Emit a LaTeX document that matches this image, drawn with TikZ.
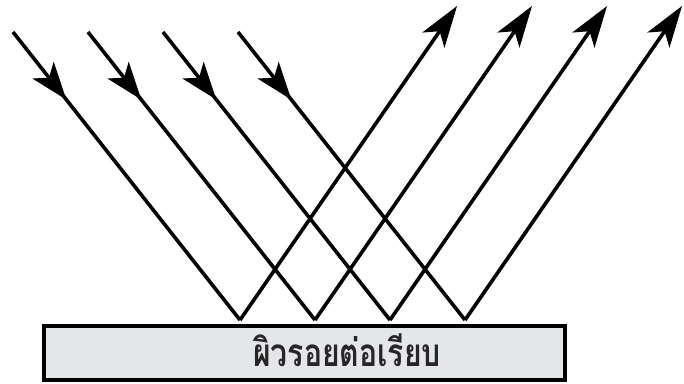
\documentclass[tikz,border=0pt]{standalone}
\usepackage{fontspec}
\newfontfamily\thaifont[Script=Thai]{Loma}
\usetikzlibrary{arrows.meta,decorations.markings}
\begin{document}
\begin{tikzpicture}[x=0.75pt,y=-0.75pt,
  ray/.style={line width=2.7pt,line join=miter},
  inray/.style={ray,postaction={decorate},
    decoration={markings,mark=at position 0.235 with {\arrow{Stealth[length=28pt,width=20pt,inset=7pt]}}}},
  outray/.style={ray,-{Stealth[length=31pt,width=20pt,inset=8pt]}},
  surface/.style={draw=black,line width=2.5pt,fill={rgb,255:red,228;green,230;blue,233}},
  label/.style={font=\thaifont\bfseries\fontsize{29pt}{32pt}\selectfont,text=black!85,inner sep=0pt,xscale=0.78}]
\useasboundingbox (0,0) rectangle (684,383);
\fill[white] (0,0) rectangle (684,383);
% surface
\draw[surface] (44,326) rectangle (565,380);
\node[label] (lbl) at (347,350) {ผิวรอยต่อเรียบ};
% points
\foreach \i/\sx/\px/\tx in {1/13/240/457,2/88/315/532,3/163/390/607,4/238/465/682}{
  \coordinate (s\i) at (\sx,32);
  \coordinate (p\i) at (\px,320);
  \coordinate (t\i) at (\tx,6);
}
\foreach \i in {1,2,3,4}{
  \draw[inray] (s\i) -- (p\i);
  \draw[outray] (p\i) -- (t\i);
}
\end{tikzpicture}
\end{document}
